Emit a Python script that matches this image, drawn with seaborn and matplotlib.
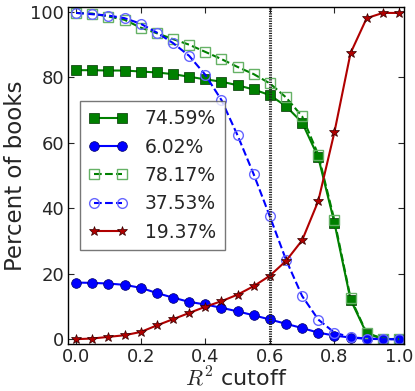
import numpy as np
import pandas as pd
import matplotlib
matplotlib.use("Agg")
import matplotlib.pyplot as plt
import seaborn as sns

cutoffs = [0.0, 0.05, 0.1, 0.15, 0.2, 0.25, 0.3, 0.35, 0.4, 0.45, 0.5,
           0.55, 0.6, 0.65, 0.7, 0.75, 0.8, 0.85, 0.9, 0.95, 1.0]

green_solid = [82.2, 82.2, 82.1, 82.1, 81.8, 81.5, 81.0, 80.2, 79.4, 78.7, 77.6,
               76.3, 74.59, 71.2, 66.2, 55.6, 35.6, 12.1, 1.7, 0.1, 0.0]
blue_solid = [17.3, 17.2, 17.0, 16.6, 15.7, 14.1, 12.7, 11.4, 10.6, 9.6, 8.5,
              7.3, 6.02, 4.7, 3.4, 2.0, 1.1, 0.5, 0.1, 0.0, 0.0]
green_dashed = [99.7, 99.5, 98.6, 97.6, 95.2, 93.5, 91.7, 90.0, 87.8, 85.6, 83.2,
                81.0, 78.17, 73.9, 68.1, 56.4, 36.4, 12.6, 1.9, 0.2, 0.0]
blue_dashed = [99.7, 99.3, 98.9, 98.1, 96.4, 93.7, 90.5, 86.6, 80.8, 73.1, 62.3,
               50.4, 37.53, 24.3, 13.2, 6.0, 2.0, 0.6, 0.2, 0.0, 0.0]
red_solid = [0.0, 0.2, 0.7, 1.2, 2.2, 4.2, 6.1, 8.0, 9.9, 11.6, 13.6,
             16.2, 19.37, 23.9, 30.2, 42.2, 63.2, 87.4, 98.1, 99.7, 99.7]

labels = ["74.59%", "6.02%", "78.17%", "37.53%", "19.37%"]
marked_cutoff = 0.6

sns.set_style("ticks")
plt.rcParams['font.family'] = ['DejaVu Sans']
plt.rcParams['mathtext.fontset'] = 'cm'

fig = plt.figure(figsize=(4.15, 3.91), dpi=100)
ax = fig.add_axes([0.164, 0.120, 0.809, 0.862])

x = np.array(cutoffs)
sns.lineplot(x=x, y=green_solid, ax=ax, color='green', marker='s', markersize=6.5,
             markeredgecolor='#003300', markeredgewidth=0.5, linewidth=1.5, label=labels[0])
sns.lineplot(x=x, y=blue_solid, ax=ax, color='blue', marker='o', markersize=7,
             markeredgecolor='#000066', markeredgewidth=0.5, linewidth=1.5, label=labels[1])
sns.lineplot(x=x, y=green_dashed, ax=ax, color='green', marker='s', markersize=6.5,
             markerfacecolor='none', markeredgecolor='#66b266', markeredgewidth=1.0,
             linestyle='--', linewidth=1.5, label=labels[2])
sns.lineplot(x=x, y=blue_dashed, ax=ax, color='blue', marker='o', markersize=7,
             markerfacecolor='none', markeredgecolor='#6666ff', markeredgewidth=1.0,
             linestyle='--', linewidth=1.5, label=labels[3])
sns.lineplot(x=x, y=red_solid, ax=ax, color='#b00000', marker='*', markersize=7,
             markeredgecolor='#330000', markeredgewidth=0.5, linewidth=1.5, label=labels[4])

ax.axvline(marked_cutoff, color='#222222', linestyle=(0, (0.4, 0.4)), linewidth=2.2)

ax.set_xlim(-0.025, 1.015)
ax.set_ylim(-1.5, 101.5)
ax.set_xticks([0.0, 0.2, 0.4, 0.6, 0.8, 1.0])
ax.set_yticks([0, 20, 40, 60, 80, 100])
ax.tick_params(direction='in', top=True, right=True, labelsize=13, length=4, pad=3)
for s in ax.spines.values():
    s.set_color('black')
    s.set_linewidth(1.0)

ax.set_xlabel(r'$R^2$ cutoff', fontsize=16, labelpad=0)
ax.set_ylabel('Percent of books', fontsize=16.5, labelpad=2)

leg = ax.legend(loc='center left', bbox_to_anchor=(0.0, 0.5), numpoints=2,
                fontsize=13.5, handlelength=2.1, frameon=True, fancybox=False,
                borderpad=0.45, labelspacing=0.5, handletextpad=0.9,
                borderaxespad=0.65)
leg.get_frame().set_edgecolor('#555555')
leg.get_frame().set_linewidth(1.0)

fig.savefig('out.png', dpi=100)
